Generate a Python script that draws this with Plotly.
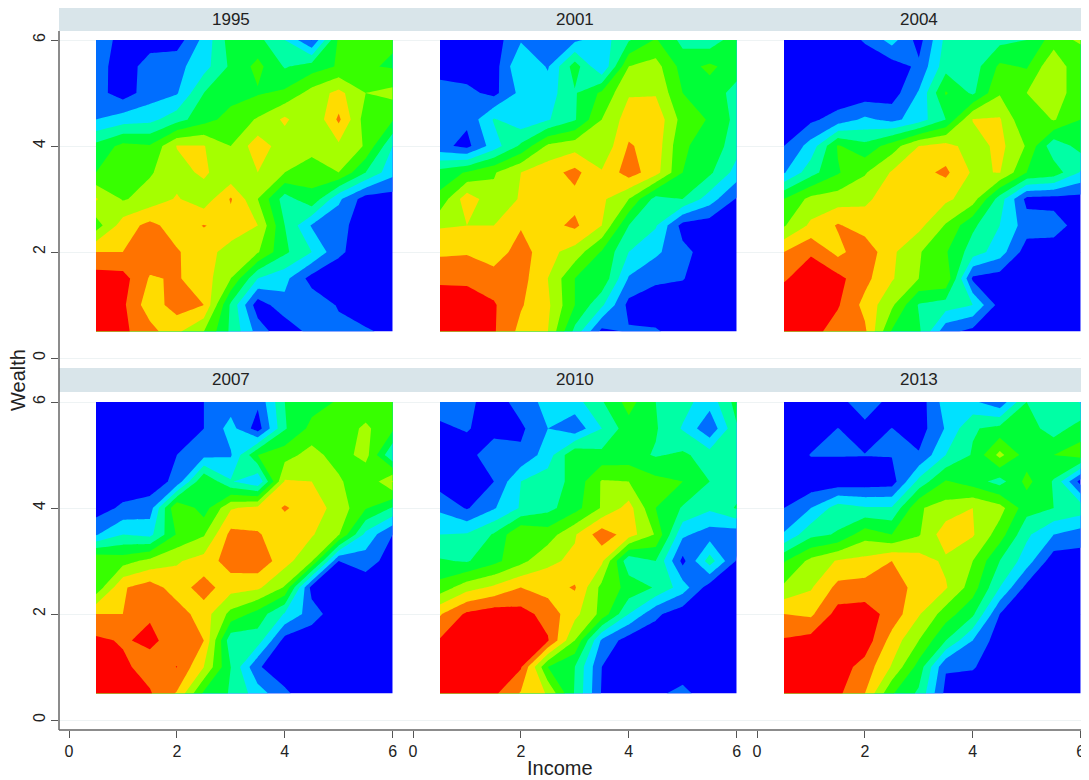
import plotly.graph_objects as go

# grid of the density estimate, rows run from the top of each panel downwards
income = [0.5, 1, 1.5, 2, 2.5, 3, 3.5, 4, 4.5, 5, 5.5, 6]
wealth = [6, 5.5, 5, 4.5, 4, 3.5, 3, 2.5, 2, 1.5, 1, 0.5]
years = ["1995", "2001", "2004", "2007", "2010", "2013"]

z_1995 = [
    [1.5, 0.7, 0.5, 0.5, 2.3, 4.5, 4.3, 3.0, 0.95, 5.2, 5.4, 5.1],
    [1.5, 0.4, 1.5, 1.7, 2.6, 4.2, 5.3, 3.9, 4.5, 5.1, 5.1, 4.9],
    [1.4, 0.5, 1.5, 1.9, 4.0, 4.6, 4.9, 5.2, 6.4, 7.3, 6.0, 6.3],
    [2.0, 2.5, 2.7, 3.6, 4.6, 5.4, 6.1, 7.2, 6.0, 8.2, 5.5, 5.1],
    [4.3, 5.3, 5.1, 7.05, 7.05, 6.0, 7.6, 6.4, 6.5, 6.8, 5.9, 3.0],
    [5.0, 5.5, 5.9, 6.6, 7.2, 6.2, 7.0, 6.0, 5.3, 6.0, 4.0, 2.3],
    [7.1, 5.9, 6.4, 7.1, 6.4, 8.1, 6.0, 3.5, 4.8, 2.2, 0.5, 0.5],
    [5.5, 7.5, 8.3, 7.5, 8.05, 7.6, 7.0, 4.0, 1.9, 1.3, 0.5, 0.5],
    [8.0, 8.0, 8.6, 8.1, 7.4, 6.6, 6.1, 4.2, 3.0, 1.2, 0.4, 0.4],
    [9.5, 9.4, 7.9, 8.1, 7.5, 6.0, 3.0, 2.3, 0.6, 0.3, 0.3, 0.3],
    [9.7, 9.2, 7.4, 8.5, 8.0, 3.8, 0.4, 1.7, 1.7, 0.9, 0.5, 0.4],
    [9.5, 9.2, 8.4, 7.2, 6.0, 3.8, 1.6, 0.2, 1.4, 1.3, 1.1, 0.8],
]
z_2001 = [
    [0.4, 0.4, 0.5, 1.9, 1.5, 1.8, 2.5, 3.9, 5.1, 3.7, 3.4, 4.6],
    [0.5, 0.4, 0.5, 3.0, 1.9, 4.5, 2.0, 6.0, 6.4, 4.6, 5.2, 4.5],
    [1.5, 1.3, 0.7, 2.3, 2.5, 3.9, 5.2, 6.9, 6.9, 5.0, 4.6, 3.6],
    [1.2, 1.2, 3.1, 2.3, 2.9, 3.9, 6.0, 7.5, 7.7, 5.6, 4.9, 3.7],
    [1.3, 0.7, 2.5, 4.2, 6.2, 6.6, 6.2, 8.1, 7.6, 5.1, 4.7, 3.4],
    [4.4, 5.1, 5.9, 7.0, 7.6, 8.3, 7.1, 8.5, 7.4, 5.0, 4.2, 2.6],
    [5.3, 7.6, 6.3, 7.1, 7.6, 7.7, 7.2, 6.0, 3.6, 4.0, 2.5, 0.9],
    [6.9, 7.0, 7.0, 7.9, 7.7, 8.2, 7.0, 4.0, 3.1, 0.6, 0.4, 0.3],
    [7.8, 7.9, 7.4, 8.5, 7.3, 6.6, 4.9, 3.0, 2.2, 1.3, 0.5, 0.3],
    [8.9, 8.8, 8.5, 8.4, 7.0, 5.0, 4.8, 1.9, 1.2, 1.05, 0.4, 0.3],
    [9.3, 9.5, 9.1, 8.1, 7.2, 5.0, 3.2, 0.7, 0.4, 0.4, 0.4, 0.4],
    [9.4, 9.4, 9.1, 7.7, 7.0, 3.7, 0.7, 1.1, 1.1, 0.6, 0.3, 0.3],
]
z_2004 = [
    [0.4, 0.4, 0.4, 1.1, 2.4, 0.6, 3.3, 3.4, 3.7, 4.0, 5.5, 6.2],
    [0.4, 0.3, 0.3, 0.4, 0.5, 1.2, 3.6, 3.5, 5.2, 4.9, 6.9, 5.0],
    [0.4, 0.3, 0.3, 0.4, 0.5, 2.1, 5.1, 3.8, 5.9, 6.0, 6.9, 5.0],
    [0.4, 0.8, 1.4, 2.2, 1.7, 2.5, 4.0, 7.05, 7.1, 5.0, 6.1, 5.0],
    [1.0, 2.4, 5.1, 4.3, 5.5, 7.0, 7.4, 6.5, 7.3, 5.9, 3.3, 4.4],
    [1.9, 3.6, 4.9, 5.9, 7.1, 7.7, 8.2, 6.85, 7.05, 5.0, 4.6, 2.9],
    [5.0, 6.3, 6.5, 6.8, 7.5, 7.1, 7.2, 6.5, 3.5, 0.7, 0.6, 0.6],
    [5.9, 7.2, 8.1, 7.5, 7.4, 7.3, 5.9, 4.2, 3.0, 1.5, 1.5, 0.5],
    [8.0, 8.9, 7.7, 8.7, 7.2, 6.1, 5.1, 3.5, 2.5, 0.5, 0.4, 0.4],
    [8.9, 9.5, 9.3, 8.3, 7.1, 6.0, 5.9, 0.8, 0.5, 0.4, 0.4, 0.4],
    [9.6, 9.6, 9.1, 7.7, 6.2, 3.9, 3.5, 3.0, 0.6, 0.4, 0.4, 0.4],
    [9.7, 9.4, 8.5, 8.2, 4.9, 4.2, 1.3, 0.7, 0.4, 0.4, 0.4, 0.4],
]
z_2007 = [
    [0.3, 0.3, 0.3, 0.4, 1.0, 1.5, 1.2, 4.0, 4.6, 5.1, 5.3, 5.1],
    [0.3, 0.3, 0.3, 0.5, 1.0, 2.4, 0.5, 3.9, 5.3, 5.4, 6.2, 5.2],
    [0.3, 0.3, 0.4, 1.0, 1.7, 1.9, 5.0, 5.6, 6.4, 5.5, 6.4, 3.0],
    [0.3, 0.3, 0.4, 1.3, 5.0, 3.1, 2.1, 7.1, 7.0, 6.2, 5.0, 7.1],
    [0.5, 1.2, 1.5, 6.0, 4.5, 6.9, 7.3, 8.1, 7.5, 6.6, 5.1, 3.9],
    [1.9, 3.0, 2.7, 5.1, 5.9, 8.3, 8.1, 7.4, 7.1, 6.1, 2.7, 1.0],
    [6.0, 5.6, 6.3, 6.9, 7.4, 8.5, 8.7, 7.4, 6.1, 1.0, 1.5, 0.5],
    [5.3, 7.9, 8.5, 7.5, 8.45, 7.4, 7.2, 5.9, 0.6, 0.3, 0.3, 0.3],
    [8.0, 8.0, 8.9, 8.5, 7.5, 5.7, 4.6, 2.9, 1.5, 0.3, 0.3, 0.3],
    [9.2, 8.9, 9.2, 8.6, 8.0, 3.3, 3.5, 0.6, 0.3, 0.3, 0.3, 0.3],
    [9.5, 9.2, 8.6, 9.02, 7.0, 4.0, 1.1, 0.4, 0.3, 0.3, 0.3, 0.3],
    [9.6, 9.5, 9.1, 7.9, 4.8, 3.9, 2.5, 1.2, 0.3, 0.3, 0.3, 0.3],
]
z_2010 = [
    [1.5, 1.3, 0.4, 1.5, 2.3, 2.6, 3.9, 5.4, 4.0, 3.4, 2.4, 4.4],
    [0.8, 1.1, 0.4, 0.8, 2.0, 1.3, 3.0, 4.6, 4.1, 2.9, 1.2, 3.9],
    [0.5, 0.4, 2.0, 1.2, 2.5, 4.9, 4.3, 4.4, 3.9, 4.2, 3.5, 3.9],
    [0.5, 0.5, 1.0, 3.0, 3.5, 4.3, 6.1, 6.0, 5.3, 5.0, 4.0, 3.5],
    [1.8, 0.9, 1.9, 3.1, 3.7, 4.6, 6.1, 7.4, 5.0, 3.9, 3.2, 4.1],
    [3.0, 3.1, 4.1, 6.0, 5.5, 6.9, 8.6, 7.5, 5.9, 2.2, 1.5, 1.4],
    [4.1, 3.9, 4.7, 5.7, 6.8, 7.2, 7.2, 3.2, 4.0, 0.7, 3.5, 0.9],
    [5.4, 6.6, 7.2, 8.0, 7.6, 8.1, 5.7, 4.7, 3.9, 2.5, 0.5, 0.4],
    [7.9, 9.2, 9.6, 9.4, 8.6, 7.3, 5.7, 3.0, 1.2, 0.4, 0.4, 0.4],
    [9.1, 9.6, 9.8, 9.7, 9.1, 6.0, 1.8, 0.5, 0.4, 0.4, 0.4, 0.4],
    [9.7, 9.7, 9.5, 9.1, 5.0, 4.0, 1.0, 0.4, 0.4, 0.4, 0.4, 0.4],
    [9.6, 9.6, 9.2, 7.9, 6.9, 3.9, 0.9, 0.4, 0.8, 1.3, 0.4, 0.4],
]
z_2013 = [
    [0.3, 0.3, 0.4, 2.0, 0.4, 0.4, 2.5, 2.2, 1.3, 4.0, 3.9, 2.9],
    [0.3, 0.4, 1.02, 0.5, 1.02, 0.5, 2.1, 3.9, 4.3, 4.5, 3.5, 4.5],
    [0.3, 1.05, 1.05, 1.03, 1.05, 1.1, 3.0, 4.1, 6.3, 4.5, 5.0, 5.5],
    [0.3, 0.3, 0.3, 0.4, 0.5, 3.3, 5.1, 4.5, 3.6, 5.3, 3.9, 0.6],
    [1.0, 2.0, 3.5, 3.1, 3.1, 5.9, 6.4, 7.0, 6.4, 4.4, 4.0, 3.6],
    [2.1, 3.7, 4.1, 5.6, 5.0, 5.9, 7.6, 7.1, 5.5, 3.2, 2.0, 1.5],
    [4.9, 6.3, 7.1, 7.3, 8.0, 7.5, 6.8, 6.0, 4.0, 2.5, 0.4, 0.5],
    [6.2, 6.9, 8.3, 8.4, 8.7, 7.5, 7.1, 5.5, 3.0, 0.7, 0.3, 0.3],
    [8.0, 7.8, 9.4, 9.5, 8.6, 7.1, 5.5, 4.2, 1.0, 0.3, 0.3, 0.3],
    [9.1, 9.4, 9.7, 9.6, 7.6, 6.0, 4.0, 2.0, 0.4, 0.3, 0.3, 0.3],
    [9.6, 9.7, 9.5, 8.6, 6.9, 4.6, 1.1, 1.1, 0.3, 0.3, 0.3, 0.3],
    [9.7, 9.6, 9.2, 8.0, 5.1, 3.8, 0.7, 0.3, 0.3, 0.3, 0.3, 0.3],
]
panels = [z_1995, z_2001, z_2004, z_2007, z_2010, z_2013]

band_colors = ["#0000ff", "#006eff", "#00e1ff", "#00ffa5", "#00ff37",
               "#37ff00", "#a5ff00", "#ffdc00", "#ff7300", "#ff0000"]
colorscale = [[i / 9, c] for i, c in enumerate(band_colors)]

# the page keeps its 8px body margin, so everything is measured from there
OFF = 8
W, H = 1089 - OFF, 780 - OFF
col_px = [(59 - OFF, 403 - OFF), (403 - OFF, 747 - OFF), (747 - OFF, W)]
zero_px = [69 - OFF, 413 - OFF, 757 - OFF]
row_px = [(31 - OFF, 368 - OFF), (392 - OFF, 730 - OFF)]
y_zero_px = [358 - OFF, 720 - OFF]
x_scale = 53.95
y_scale = 53.0
strip_color = "#d9e5ea"
grid_color = "#eef3f4"
text_color = "#222222"
font_name = "Liberation Sans"

fig = go.Figure()

for i, z in enumerate(panels):
    r, c = i // 3, i % 3
    n = i + 1
    xa = "x" if n == 1 else f"x{n}"
    ya = "y" if n == 1 else f"y{n}"
    fig.add_trace(go.Contour(
        x=income, y=wealth, z=z, xaxis=xa, yaxis=ya,
        colorscale=colorscale, showscale=False, hoverinfo="skip",
        autocontour=False,
        contours=dict(start=1, end=9, size=1, coloring="fill", showlines=False),
        line=dict(width=0, smoothing=0),
    ))

    left, right = col_px[c]
    top, bottom = row_px[r]
    x_axis = dict(
        domain=[left / W, right / W],
        range=[(left - zero_px[c]) / x_scale, (right - zero_px[c]) / x_scale],
        anchor=ya, tickvals=[0, 2, 4, 6], showgrid=False, zeroline=False,
        showline=False, showticklabels=r == 1,
        ticks="outside" if r == 1 else "", ticklen=7, tickwidth=1, tickcolor="#555555",
        tickfont=dict(size=16, color=text_color, family=font_name),
    )
    y_axis = dict(
        domain=[1 - bottom / H, 1 - top / H],
        range=[(y_zero_px[r] - bottom) / y_scale, (y_zero_px[r] - top) / y_scale],
        anchor=xa, tickvals=[0, 2, 4, 6], showgrid=True, gridcolor=grid_color,
        gridwidth=1, zeroline=False, showline=False, showticklabels=c == 0,
        ticks="outside" if c == 0 else "", ticklen=7, tickwidth=1, tickcolor="#555555",
        tickangle=-90,
        tickfont=dict(size=16, color=text_color, family=font_name),
    )
    fig.update_layout({xa.replace("x", "xaxis"): x_axis, ya.replace("y", "yaxis"): y_axis})

    fig.add_annotation(
        x=(zero_px[c] + 3 * x_scale) / W, y=1 - (top - 12) / H, xref="paper", yref="paper",
        text=years[i], showarrow=False, xanchor="center", yanchor="middle",
        font=dict(size=17, color=text_color, family=font_name),
    )

# strips over each row, and the outer axis lines
for top in [7 - OFF, 368 - OFF]:
    fig.add_shape(type="rect", xref="paper", yref="paper", layer="below", line_width=0,
                  x0=(59 - OFF) / W, x1=1, y0=1 - top / H, y1=1 - (top + 24) / H,
                  fillcolor=strip_color)
fig.add_shape(type="line", xref="paper", yref="paper", x0=(59 - OFF) / W, x1=(59 - OFF) / W,
              y0=1 - (31 - OFF) / H, y1=1 - (730 - OFF) / H, line=dict(color="#666666", width=1.5))
fig.add_shape(type="line", xref="paper", yref="paper", x0=(59 - OFF) / W, x1=1,
              y0=1 - (730 - OFF) / H, y1=1 - (730 - OFF) / H, line=dict(color="#666666", width=1.5))

fig.add_annotation(x=(560 - OFF) / W, y=1 - (768 - OFF) / H, xref="paper", yref="paper", text="Income",
                   xanchor="center", yanchor="middle", showarrow=False,
                   font=dict(size=20, color=text_color, family=font_name))
fig.add_annotation(x=(18 - OFF) / W, y=1 - (380 - OFF) / H, xref="paper", yref="paper", text="Wealth",
                   xanchor="center", yanchor="middle", showarrow=False, textangle=-90,
                   font=dict(size=20, color=text_color, family=font_name))

fig.update_layout(width=W, height=H, margin=dict(l=0, r=0, t=0, b=0),
                  paper_bgcolor="white", plot_bgcolor="rgba(0,0,0,0)", showlegend=False)

fig.write_html("out.html")
